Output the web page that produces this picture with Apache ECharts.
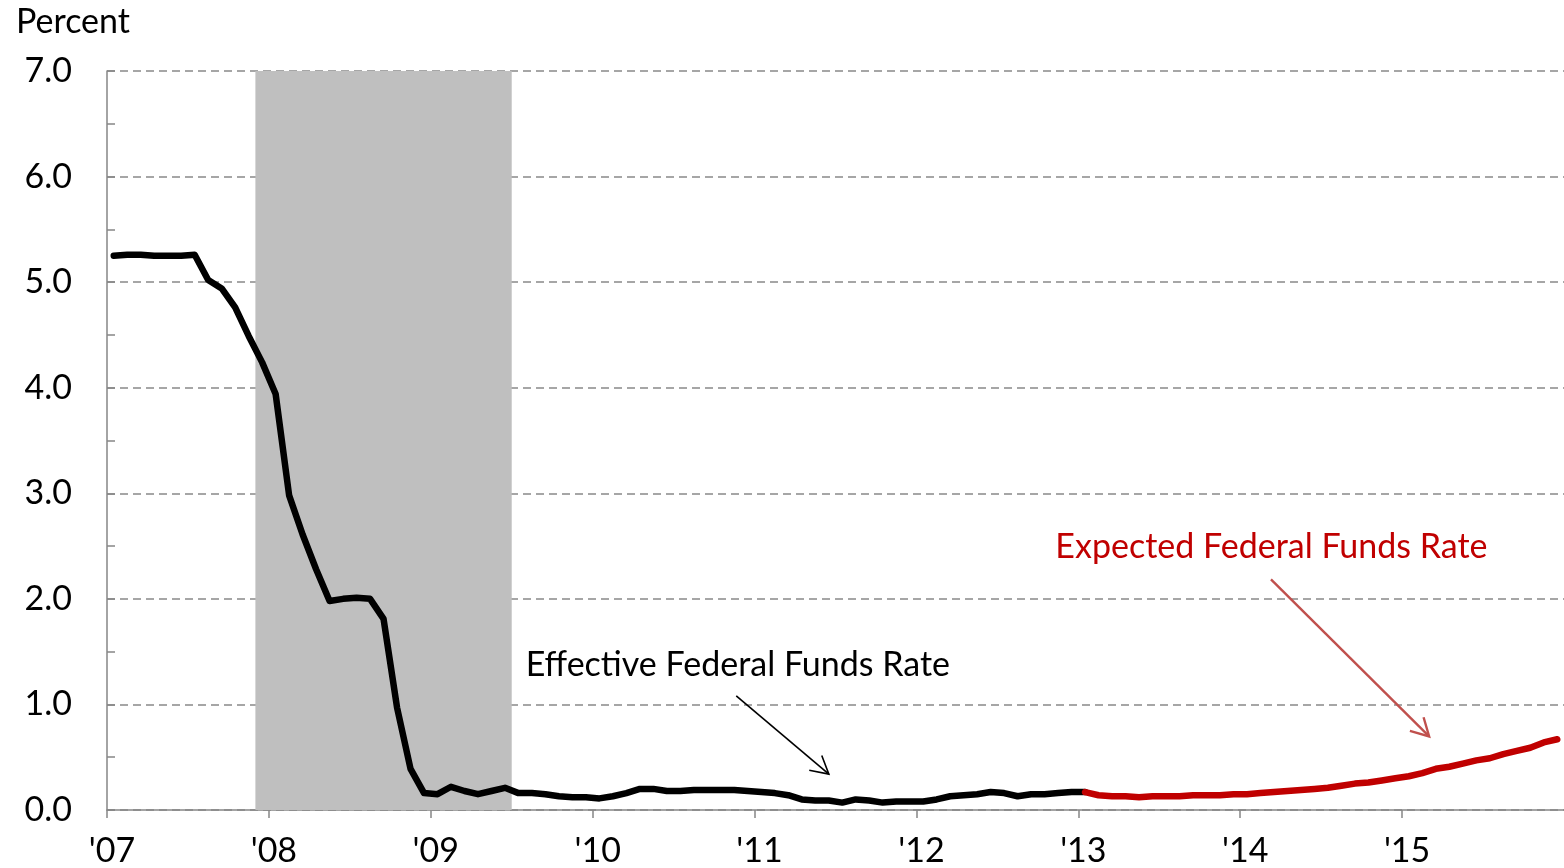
<!DOCTYPE html>
<html>
<head>
<meta charset="utf-8">
<script src="https://cdn.jsdelivr.net/npm/echarts@6/dist/echarts.min.js"></script>
<style>
  html, body { margin: 0; padding: 0; background: #ffffff; }
  #chart { width: 1564px; height: 868px; }
</style>
</head>
<body>
<div id="chart"></div>
<script>
// Monthly averages, percent
const effectiveStart = [2007, 1];
const effectiveRate = [
  5.25, 5.26, 5.26, 5.25, 5.25, 5.25, 5.26, 5.02, 4.94, 4.76, 4.49, 4.24,
  3.94, 2.98, 2.61, 2.28, 1.98, 2.00, 2.01, 2.00, 1.81, 0.97, 0.39, 0.16,
  0.15, 0.22, 0.18, 0.15, 0.18, 0.21, 0.16, 0.16, 0.15, 0.13, 0.12, 0.12,
  0.11, 0.13, 0.16, 0.20, 0.20, 0.18, 0.18, 0.19, 0.19, 0.19, 0.19, 0.18,
  0.17, 0.16, 0.14, 0.10, 0.09, 0.09, 0.07, 0.10, 0.09, 0.07, 0.08, 0.08,
  0.08, 0.10, 0.13, 0.14, 0.15, 0.17, 0.16, 0.13, 0.15, 0.15, 0.16, 0.17,
  0.17
];

const expectedStart = [2013, 1];
const expectedRate = [
  0.17, 0.14, 0.13, 0.13, 0.12, 0.13, 0.13, 0.13, 0.14, 0.14, 0.14, 0.15,
  0.15, 0.16, 0.17, 0.18, 0.19, 0.20, 0.21, 0.23, 0.25, 0.26, 0.28, 0.30,
  0.32, 0.35, 0.39, 0.41, 0.44, 0.47, 0.49, 0.53, 0.56, 0.59, 0.64, 0.67
];

// Recession: December 2007 through June 2009 (decimal years)
const recession = [2007 + 11 / 12, 2009.5];

const yearTicks = [2007, 2008, 2009, 2010, 2011, 2012, 2013, 2014, 2015];
const yearLabels = ["'07", "'08", "'09", "'10", "'11", "'12", "'13", "'14", "'15"];

// Annotations in data space: [year, percent]
const effectiveNote = { text: 'Effective Federal Funds Rate', at: [2009.586, 1.372],
                        from: [2010.887, 1.081], to: [2011.459, 0.34] };
const expectedNote = { text: 'Expected Federal Funds Rate', at: [2012.858, 2.488],
                       from: [2014.19, 2.185], to: [2015.167, 0.697] };

const FONT = 'Lato, "Noto Sans", sans-serif';
const FONT_SIZE = 34;

// Place each monthly value at the middle of its month
function toSeries(start, values) {
  return values.map((v, i) => [start[0] + (start[1] - 1 + i + 0.5) / 12, v]);
}

const chart = echarts.init(document.getElementById('chart'), null, { renderer: 'canvas' });

chart.setOption({
  animation: false,
  backgroundColor: '#ffffff',
  title: {
    text: 'Percent',
    left: 11,
    top: 0,
    textStyle: { fontFamily: FONT, fontSize: FONT_SIZE, fontWeight: 'normal', color: '#000000' }
  },
  grid: { left: 107, right: 0, top: 71, bottom: 57 },
  xAxis: {
    type: 'value',
    min: 2007,
    max: 2016,
    interval: 1,
    axisLine: { show: true, lineStyle: { color: '#868686', width: 1.5 } },
    axisTick: { show: true, length: 8, lineStyle: { color: '#868686', width: 1.5 } },
    splitLine: { show: false },
    axisLabel: {
      fontFamily: FONT, fontSize: FONT_SIZE, color: '#000000', margin: 24,
      padding: [0, 0, 0, 10],
      showMaxLabel: false,
      formatter: v => {
        const i = yearTicks.indexOf(Math.round(v));
        return i >= 0 ? yearLabels[i] : '';
      }
    }
  },
  yAxis: {
    type: 'value',
    min: 0,
    max: 7,
    interval: 1,
    axisLine: { show: true, lineStyle: { color: '#868686', width: 1.5 } },
    axisTick: { show: true, inside: true, length: 8, lineStyle: { color: '#868686', width: 1.5 } },
    minorTick: { show: true, splitNumber: 2, length: 8, lineStyle: { color: '#868686', width: 1.5 } },
    splitLine: { show: true, lineStyle: { color: '#898989', width: 1.5, type: [8, 5] } },
    axisLabel: {
      fontFamily: FONT, fontSize: FONT_SIZE, color: '#000000', margin: 35,
      formatter: v => v.toFixed(1)
    }
  },
  series: [
    {
      name: 'Recession',
      type: 'line',
      data: [],
      z: 1,
      silent: true,
      markArea: {
        silent: true,
        itemStyle: { color: '#bfbfbf', opacity: 1 },
        data: [[{ xAxis: recession[0] }, { xAxis: recession[1] }]]
      }
    },
    {
      name: 'Effective Federal Funds Rate',
      type: 'line',
      z: 3,
      showSymbol: false,
      symbol: 'none',
      data: toSeries(effectiveStart, effectiveRate),
      lineStyle: { color: '#000000', width: 6.5, cap: 'round', join: 'round' }
    },
    {
      name: 'Expected Federal Funds Rate',
      type: 'line',
      z: 4,
      showSymbol: false,
      symbol: 'none',
      data: toSeries(expectedStart, expectedRate),
      lineStyle: { color: '#c00000', width: 6.5, cap: 'round', join: 'round' }
    }
  ]
});

// Annotation text and open-headed arrows, positioned through the grid's scales
function arrow(note, color, width) {
  const p0 = chart.convertToPixel({ gridIndex: 0 }, note.from);
  const p1 = chart.convertToPixel({ gridIndex: 0 }, note.to);
  const dx = p1[0] - p0[0], dy = p1[1] - p0[1];
  const len = Math.hypot(dx, dy);
  const ux = dx / len, uy = dy / len;
  const head = 20, ang = 29 * Math.PI / 180;
  const wing = s => [
    p1[0] - head * (ux * Math.cos(ang) - s * uy * Math.sin(ang)),
    p1[1] - head * (uy * Math.cos(ang) + s * ux * Math.sin(ang))
  ];
  return [
    { type: 'polyline', z: 10, shape: { points: [p0, p1] },
      style: { stroke: color, lineWidth: width, fill: null } },
    { type: 'polyline', z: 10, shape: { points: [wing(1), p1, wing(-1)] },
      style: { stroke: color, lineWidth: width, fill: null, lineJoin: 'miter' } }
  ];
}

function label(note, color) {
  const p = chart.convertToPixel({ gridIndex: 0 }, note.at);
  return {
    type: 'text', z: 10, x: p[0], y: p[1],
    style: { text: note.text, fill: color, font: FONT_SIZE + 'px ' + FONT, textAlign: 'left', textVerticalAlign: 'middle', verticalAlign: 'middle' }
  };
}

chart.setOption({
  graphic: [
    label(effectiveNote, '#000000'),
    label(expectedNote, '#c00000'),
    ...arrow(effectiveNote, '#000000', 1.6),
    ...arrow(expectedNote, '#c0504d', 2.4)
  ]
});
</script>
</body>
</html>
